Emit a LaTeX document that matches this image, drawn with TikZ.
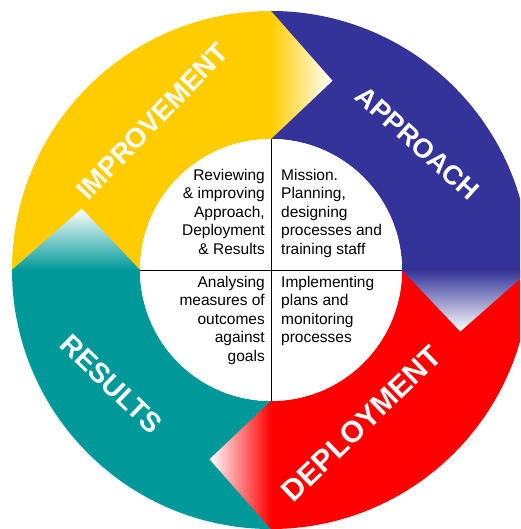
\documentclass[tikz,border=0pt]{standalone}
\usepackage{fontspec}
\setmainfont{Liberation Sans}
\definecolor{improveyellow}{RGB}{255,204,0}
\definecolor{approachblue}{RGB}{51,51,153}
\definecolor{deployred}{RGB}{255,0,0}
\definecolor{resultsteal}{RGB}{0,153,153}
\tikzset{
  stage/.style={text=white, inner sep=0pt, font=\bfseries\fontsize{#1}{#1}\selectfont},
  stage/.default=27,
  task/.style={inner sep=0pt, font=\fontsize{15.5}{18.5}\selectfont},
}

\begin{document}
\begin{tikzpicture}[x=1pt, y=1pt]
  \clip (-271,-259) rectangle (249,270);
  \fill[improveyellow] (180:131) -- (180:259) arc[start angle=180, end angle=90, radius=259] -- (90:131) arc[start angle=90, end angle=180, radius=131] -- cycle;
  \fill[approachblue] (90:131) -- (90:259) arc[start angle=90, end angle=0, radius=259] -- (0:131) arc[start angle=0, end angle=90, radius=131] -- cycle;
  \fill[deployred] (0:131) -- (0:259) arc[start angle=0, end angle=-90, radius=259] -- (-90:131) arc[start angle=-90, end angle=0, radius=131] -- cycle;
  \fill[resultsteal] (270:131) -- (270:259) arc[start angle=270, end angle=180, radius=259] -- (180:131) arc[start angle=180, end angle=270, radius=131] -- cycle;
  \shade[left color=improveyellow, right color=white] (90:259) -- (72:199) -- (90:131) -- cycle;
  \shade[top color=approachblue, bottom color=white] (0:259) -- (-18:199) -- (0:131) -- cycle;
  \shade[right color=deployred, left color=white] (270:259) -- (252:199) -- (270:131) -- cycle;
  \shade[bottom color=resultsteal, top color=white] (180:259) -- (162:199) -- (180:131) -- cycle;
  \node[circle, fill=white, minimum size=262pt, inner sep=0pt] (hub) at (0,0) {};
  \draw[line width=0.8pt] (hub.north) -- (hub.south);
  \draw[line width=0.8pt] (hub.west) -- (hub.east);
  \node[task, align=right, anchor=north east] (review) at (-6,101) {Reviewing\\ \& improving\\ Approach,\\ Deployment\\ \& Results};
  \node[task, align=left, anchor=north west] (mission) at (10,101) {Mission.\\ Planning,\\ designing\\ processes and\\ training staff};
  \node[task, align=right, anchor=north east] (analyse) at (-6,-6) {Analysing\\ measures of\\ outcomes\\ against\\ goals};
  \node[task, align=left, anchor=north west] (implement) at (10,-6) {Implementing\\ plans and\\ monitoring\\ processes};
  \node[stage=27.5, rotate=46] (improvement) at (-118.5,148.5) {IMPROVEMENT};
  \node[stage=27, rotate=-42] (approach) at (146.5,127) {APPROACH};
  \node[stage=30, rotate=44] (deployment) at (90.5,-153.5) {DEPLOYMENT};
  \node[stage=28, rotate=-44] (results) at (-159.5,-114) {RESULTS};
\end{tikzpicture}
\end{document}
